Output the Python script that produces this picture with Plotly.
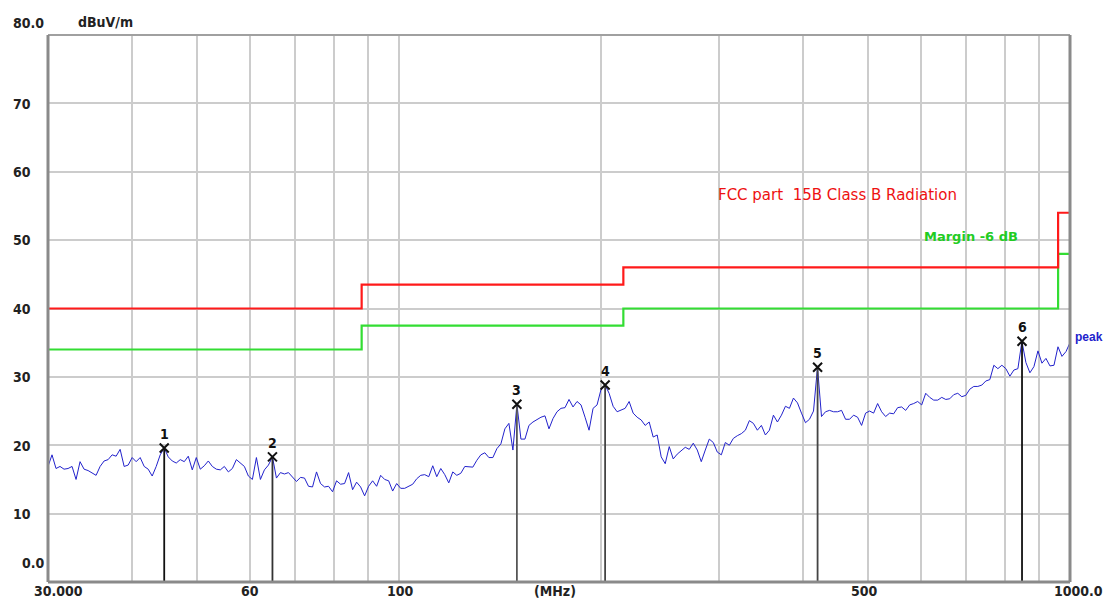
import numpy as np
import plotly.graph_objects as go

# ---------------- data ----------------
f_start, f_stop = 30.0, 1000.0
n_points = 256
peak_level = [
    16.9, 18.6, 16.6, 16.9, 16.5, 16.6, 16.9, 15.0, 17.6, 16.5,
    16.3, 16.0, 15.6, 16.9, 17.7, 17.9, 18.6, 18.4, 19.4, 16.9,
    17.1, 18.2, 17.6, 18.2, 16.9, 16.5, 15.5, 16.9, 18.6, 19.6,
    18.3, 17.7, 17.4, 17.9, 17.6, 18.4, 16.4, 18.2, 16.5, 17.0,
    17.7, 16.9, 16.5, 16.4, 16.9, 16.1, 16.6, 17.9, 17.4, 16.9,
    15.5, 15.0, 18.2, 15.0, 16.4, 17.1, 18.3, 15.2, 16.0, 15.8,
    16.0, 15.4, 14.7, 15.3, 15.2,
    14.0, 13.9, 16.1, 14.4, 13.9, 14.0, 13.2, 14.8, 14.3, 14.4,
    16.0, 13.5, 14.6, 13.9, 12.6, 14.0, 14.8, 14.0, 15.6, 15.0,
    14.8, 13.3, 14.4, 13.7, 13.7, 14.0, 14.3, 15.1, 15.6, 15.7,
    15.4, 17.0, 15.4, 16.6, 15.7, 14.5, 16.1, 15.6, 15.9, 16.9,
    16.9, 16.8, 17.8, 18.6, 18.9, 18.2, 18.2, 19.5, 20.2, 22.4,
    23.2, 19.3, 26.0, 20.9, 20.9, 22.9, 23.4, 23.8, 24.1, 24.3,
    22.4, 23.9, 24.9, 25.4,
    25.5, 26.7, 25.6, 26.4, 25.9, 24.1, 22.2, 25.4, 25.9, 28.2,
    28.8, 27.6, 25.7, 24.9, 25.1, 25.4, 26.4, 24.7, 24.1, 23.7,
    22.9, 23.4, 21.2, 21.5, 18.3, 17.3, 19.8, 18.0, 18.7, 19.2,
    19.7, 19.4, 20.3, 19.3, 17.6, 19.3, 20.9, 20.4, 19.0, 18.6,
    20.4, 20.0, 21.0, 21.4, 21.7, 22.2, 23.6, 23.2, 22.2, 22.9,
    21.5, 22.2, 24.4, 23.4, 24.4, 25.7, 25.4, 26.9, 26.2, 24.7,
    23.3, 23.8, 25.0, 31.4,
    24.2, 24.9, 25.1, 24.9, 24.9, 25.1, 23.8, 23.8, 24.4, 24.1,
    22.9, 24.7, 25.0, 24.7, 26.1, 24.9, 24.2, 24.7, 24.6, 25.5,
    25.6, 25.1, 25.9, 26.1, 26.4, 25.9, 27.6, 27.0, 26.6, 26.6,
    27.0, 26.7, 26.8, 27.4, 27.6, 27.1, 27.3, 28.2, 28.6, 28.6,
    28.8, 29.4, 29.6, 31.7, 31.2, 31.7, 31.2, 30.1, 31.0, 31.2,
    35.2, 32.1, 30.6, 31.5, 33.8, 32.0, 32.7, 31.6, 31.7, 34.4,
    33.0, 33.7, 35.0,
]
sweep_freq = np.logspace(np.log10(f_start), np.log10(f_stop), n_points)

limit_freq = [30, 88, 216, 960, 1000]
limit_level = [40.0, 43.5, 46.0, 54.0, 54.0]
margin_db = -6.0

marker_no = [1, 2, 3, 4, 5, 6]
marker_freq = [44.7, 64.8, 149.9, 202.9, 420.6, 848.2]
marker_level = [19.6, 18.3, 26.0, 28.8, 31.4, 35.2]
marker_color = ["#111111", "#333333", "#555555", "#444444", "#444444", "#111111"]

grid_freq = [30, 40, 50, 60, 70, 80, 90, 100, 200, 300, 400, 500,
             600, 700, 800, 900, 1000]
x_labels = ["30.000", "60", "100", "(MHz)", "500", "1000.0"]
x_label_px = [58, 250, 400, 555, 864, 1078]
y_labels = ["80.0", "70", "60", "50", "40", "30", "20", "10", "0.0"]
y_label_px = [23, 104, 172, 240, 309, 377, 446, 514, 563]
y_label_left = [11, 11, 11, 11, 11, 11, 11, 11, 20]

# ---------------- layout geometry ----------------
# page body adds an 8px offset; geometry below is in screen pixels
OFF = 8
W, H = 1112 - OFF, 600 - OFF
PX0, PX1, PY0, PY1 = 48, 1070, 35, 582      # plot area on screen
L, T = PX0 - OFF, PY0 - OFF
R, B = W - (PX1 - OFF), H - (PY1 - OFF)
pw, ph = PX1 - PX0, PY1 - PY0

LABEL_FONT = "DejaVu Sans Condensed, DejaVu Sans, sans-serif"

def px_x(px):
    return (px - PX0) / pw

def px_y(py):
    return 1 - (py - PY0) / ph

fig = go.Figure()

margin_level = [v + margin_db for v in limit_level]
fig.add_trace(go.Scatter(x=limit_freq, y=margin_level, mode="lines",
                         line=dict(color="#33dd33", width=2.2, shape="hv"),
                         hoverinfo="skip"))
fig.add_trace(go.Scatter(x=limit_freq, y=limit_level, mode="lines",
                         line=dict(color="#ff1a1a", width=2.2, shape="hv"),
                         hoverinfo="skip"))
fig.add_trace(go.Scatter(x=sweep_freq, y=peak_level, mode="lines",
                         line=dict(color="#2222cc", width=1)))

# marker stems
for f, v, c in zip(marker_freq, marker_level, marker_color):
    fig.add_trace(go.Scatter(x=[f, f], y=[0, v], mode="lines",
                             line=dict(color=c, width=1.8), hoverinfo="skip"))
fig.add_trace(go.Scatter(x=marker_freq, y=marker_level, mode="markers",
                         marker=dict(symbol="x-thin", size=9,
                                     line=dict(color="#111111", width=2))))

ann = []
for n, f, v in zip(marker_no, marker_freq, marker_level):
    ann.append(dict(x=np.log10(f), y=v, xref="x", yref="y", text=f"<b>{n}</b>",
                    showarrow=False, yshift=14,
                    font=dict(size=14, color="#111111", family=LABEL_FONT)))

for t, py, lx in zip(y_labels, y_label_px, y_label_left):
    ann.append(dict(x=px_x(lx), y=px_y(py), xref="paper", yref="paper",
                    text=f"<b>{t}</b>", showarrow=False, xanchor="left", yanchor="middle",
                    font=dict(size=14, color="#222222", family=LABEL_FONT)))
for t, px in zip(x_labels, x_label_px):
    ann.append(dict(x=px_x(px), y=px_y(591), xref="paper", yref="paper",
                    text=f"<b>{t}</b>", showarrow=False, xanchor="center", yanchor="middle",
                    font=dict(size=14, color="#222222", family=LABEL_FONT)))

def txt(s, px, py, color, size=12, bold=True, family=LABEL_FONT):
    return dict(x=px_x(px), y=px_y(py), xref="paper", yref="paper",
                text=f"<b>{s}</b>" if bold else s, showarrow=False,
                xanchor="left", yanchor="middle",
                font=dict(size=size, color=color, family=family))

ann.append(txt("dBuV/m", 76, 22, "#222222", 14))
ann.append(txt("FCC part  15B Class B Radiation", 716, 195, "#ee1111", 15, False,
               "DejaVu Sans, sans-serif"))
ann.append(txt("Margin -6 dB", 922, 236, "#22cc22", 13, True, "DejaVu Sans, sans-serif"))
ann.append(txt("peak", 1073, 337, "#2222cc", 12, True, "Liberation Sans, Arial, sans-serif"))

shapes = [
    dict(type="line", xref="paper", yref="paper", x0=0, x1=1, y0=1, y1=1,
         line=dict(color="#a0a0a0", width=2)),
    dict(type="line", xref="paper", yref="paper", x0=0, x1=0, y0=0, y1=1,
         line=dict(color="#8a8a8a", width=3)),
    dict(type="line", xref="paper", yref="paper", x0=1, x1=1, y0=0, y1=1,
         line=dict(color="#8a8a8a", width=3)),
    dict(type="line", xref="paper", yref="paper", x0=0, x1=1, y0=0, y1=0,
         line=dict(color="#8a8a8a", width=3)),
]

fig.update_layout(
    width=W, height=H,
    margin=dict(l=L, r=R, t=T, b=B),
    paper_bgcolor="white", plot_bgcolor="white",
    showlegend=False,
    font=dict(family="Liberation Sans, Arial, sans-serif"),
    annotations=ann, shapes=shapes,
    xaxis=dict(type="log", range=[np.log10(f_start), np.log10(f_stop)],
               tickmode="array", tickvals=grid_freq, showticklabels=False,
               showgrid=True, gridcolor="#cccccc", gridwidth=1.5,
               zeroline=False, showline=False, ticks=""),
    yaxis=dict(range=[0, 80], tickmode="linear", tick0=0, dtick=10,
               showticklabels=False, showgrid=True, gridcolor="#cccccc",
               gridwidth=1.5, zeroline=False, showline=False, ticks=""),
)

fig.write_html("out.html")
